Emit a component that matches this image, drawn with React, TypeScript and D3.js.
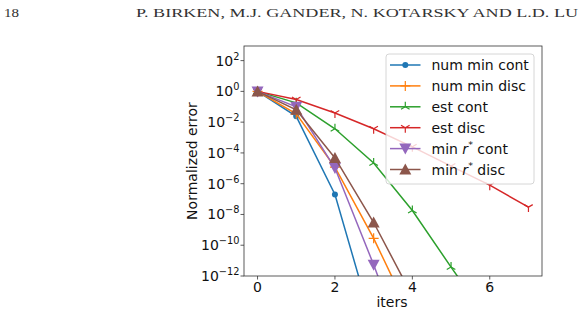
import * as d3 from 'd3'

const W = 582
const H = 315

// iterations on the x axis
const iters = [0, 1, 2, 3, 4, 5, 6, 7]

// normalized error per iteration
const numMinCont = [1, 2.4e-2, 2.0e-7, 4e-16]
const numMinDisc = [1, 3.5e-2, 1.2e-5, 2.8e-10, 1.5e-15]
const estCont = [1, 1.8e-1, 3.7e-3, 2.2e-5, 1.8e-8, 3.8e-12, 1e-15]
const estDisc = [1, 3.0e-1, 3.9e-2, 3.7e-3, 2.5e-4, 1.4e-5, 8.0e-7, 3.0e-8]
const minRCont = [1, 1.0e-1, 1.05e-5, 5.4e-12, 1e-18]
const minRDisc = [1, 6.3e-2, 4.7e-5, 3.0e-9, 5e-14]

const xTicks = [0, 2, 4, 6]
const yTickExps = [2, 0, -2, -4, -6, -8, -10, -12]

const headerPage = '18'
const headerAuthors = 'P. BIRKEN, M.J. GANDER, N. KOTARSKY AND L.D. LU'

type Marker = 'dot' | 'plus' | 'triUp' | 'triDown' | 'triangleDown' | 'triangleUp'

const series: { key: string; label: string; star?: boolean; values: number[]; color: string; marker: Marker }[] = [
  { key: 'nmc', label: 'num min cont', values: numMinCont, color: '#1f77b4', marker: 'dot' },
  { key: 'nmd', label: 'num min disc', values: numMinDisc, color: '#ff7f0e', marker: 'plus' },
  { key: 'ec', label: 'est cont', values: estCont, color: '#2ca02c', marker: 'triUp' },
  { key: 'ed', label: 'est disc', values: estDisc, color: '#d62728', marker: 'triDown' },
  { key: 'mrc', label: 'cont', star: true, values: minRCont, color: '#9467bd', marker: 'triangleDown' },
  { key: 'mrd', label: 'disc', star: true, values: minRDisc, color: '#8c564b', marker: 'triangleUp' },
]

const FONT = '"DejaVu Sans", sans-serif'
const left = 244
const right = 542
const top = 46
const bottom = 276

function markerNode(m: Marker, x: number, y: number, color: string, k: string) {
  switch (m) {
    case 'dot':
      return <circle key={k} cx={x} cy={y} r={3} fill={color} />
    case 'plus':
      return (
        <path key={k} d={`M${x - 5},${y}H${x + 5}M${x},${y - 5}V${y + 5}`} stroke={color} strokeWidth={1.2} fill="none" />
      )
    case 'triUp':
      return (
        <path key={k} d={`M${x},${y}V${y - 5}M${x},${y}L${x - 4.3},${y + 2.5}M${x},${y}L${x + 4.3},${y + 2.5}`} stroke={color} strokeWidth={1.2} fill="none" />
      )
    case 'triDown':
      return (
        <path key={k} d={`M${x},${y}V${y + 5}M${x},${y}L${x - 4.3},${y - 2.5}M${x},${y}L${x + 4.3},${y - 2.5}`} stroke={color} strokeWidth={1.2} fill="none" />
      )
    case 'triangleDown':
      return <path key={k} d={`M${x - 6},${y - 5}L${x + 6},${y - 5}L${x},${y + 6}Z`} fill={color} />
    case 'triangleUp':
      return <path key={k} d={`M${x - 6},${y + 5}L${x + 6},${y + 5}L${x},${y - 6}Z`} fill={color} />
  }
}

export default function App() {
  const x = d3.scaleLinear().domain([-0.35, 7.35]).range([left, right])
  const y = d3.scaleLog().domain([1e-12, Math.pow(10, 2.95)]).range([bottom, top])

  const line = d3
    .line<number>()
    .x((_, i) => x(iters[i]))
    .y((d) => y(d))

  const legX = 386
  const legY = 54
  const rowH = 20.9

  return (
    <div style={{ position: 'absolute', left: 0, top: 0 }}>
      <svg width={W} height={H} style={{ display: 'block', background: '#fff' }}>
        <defs>
          <clipPath id="plot">
            <rect x={left} y={top} width={right - left} height={bottom - top} />
          </clipPath>
        </defs>

        <text x={4} y={16.5} fontFamily='"Liberation Serif", serif' fontSize={12.5} fill="#333" textLength={15} lengthAdjust="spacingAndGlyphs">
          {headerPage}
        </text>
        <text x={136} y={16.5} fontFamily='"Liberation Serif", serif' fontSize={12.5} fill="#333" textLength={442} lengthAdjust="spacingAndGlyphs">
          {headerAuthors}
        </text>

        <g clipPath="url(#plot)">
          {series.map((s) => (
            <g key={s.key}>
              <path d={line(s.values) ?? ''} fill="none" stroke={s.color} strokeWidth={1.5} />
              {s.values.map((v, i) => markerNode(s.marker, x(iters[i]), y(v), s.color, `${s.key}${i}`))}
            </g>
          ))}
        </g>

        <rect x={left} y={top} width={right - left} height={bottom - top} fill="none" stroke="#333" strokeWidth={0.8} />

        {xTicks.map((t) => (
          <g key={t}>
            <line x1={x(t)} x2={x(t)} y1={bottom} y2={bottom + 3.5} stroke="#333" strokeWidth={0.8} />
            <text x={x(t)} y={292} textAnchor="middle" fontFamily={FONT} fontSize={14} fill="#111">
              {t}
            </text>
          </g>
        ))}

        {yTickExps.map((e) => (
          <g key={e}>
            <line x1={left - 3.5} x2={left} y1={y(Math.pow(10, e))} y2={y(Math.pow(10, e))} stroke="#333" strokeWidth={0.8} />
            <text x={239.5} y={y(Math.pow(10, e)) + 5} textAnchor="end" fontFamily={FONT} fontSize={14} fill="#111">
              10
              <tspan dy={-6} fontSize={9.8}>
                {e < 0 ? `\u2212${-e}` : `${e}`}
              </tspan>
            </text>
          </g>
        ))}

        <text x={392} y={307} textAnchor="middle" fontFamily={FONT} fontSize={14} fill="#111">
          iters
        </text>
        <text
          transform={`translate(197,${(top + bottom) / 2}) rotate(-90)`}
          textAnchor="middle"
          fontFamily={FONT}
          fontSize={14}
          fill="#111"
        >
          Normalized error
        </text>

        <rect x={legX} y={legY} width={148} height={130} rx={3} fill="#fff" fillOpacity={0.8} stroke="#ccc" strokeWidth={0.8} />
        {series.map((s, i) => {
          const cy = legY + 11 + i * rowH
          return (
            <g key={s.key}>
              <line x1={390} x2={420.5} y1={cy} y2={cy} stroke={s.color} strokeWidth={1.5} />
              {markerNode(s.marker, 405.3, cy, s.color, 'm')}
              <text x={431.5} y={cy + 5} fontFamily={FONT} fontSize={14} fill="#111">
                {s.star ? (
                  <>
                    min <tspan fontStyle="italic">r</tspan>
                    <tspan dy={-6} fontSize={9.5}>*</tspan>
                    <tspan dy={6}> {s.label}</tspan>
                  </>
                ) : (
                  s.label
                )}
              </text>
            </g>
          )
        })}
      </svg>
    </div>
  )
}
